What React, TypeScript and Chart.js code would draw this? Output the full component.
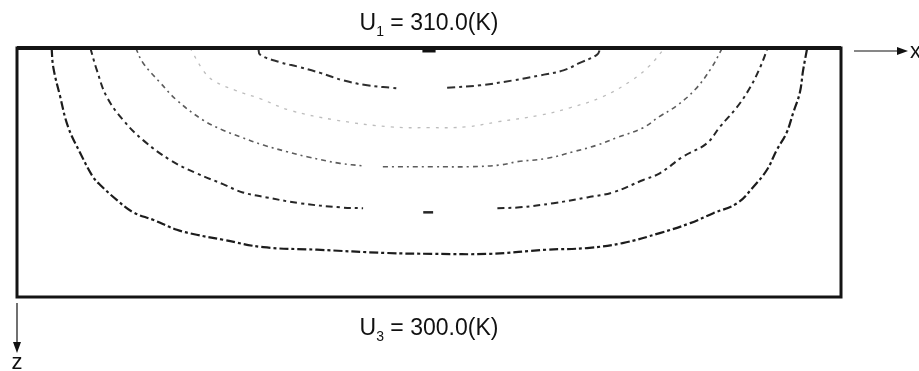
import React, { useEffect, useRef } from "react";
import { Chart, registerables } from "chart.js";

Chart.register(...registerables);

// Domain (x across, z down)
const X_RANGE = [0, 100];
const Z_RANGE = [0, 30];

// Contour 1 (outermost)
const c1X = [4.2, 4.4, 5.2, 6.2, 7.7, 9.2, 10.1, 12.1, 14.1, 16.5, 19.4, 21.8, 25.0, 29.9, 36.4, 44.9, 50.5, 57.4, 64.3, 69.2, 73.5, 78.0, 81.7, 84.5, 87.4, 89.3, 91.0, 92.2, 93.4, 94.2, 95.0, 95.4, 95.9];
const c1Z = [0, 2.3, 5.7, 9.5, 12.7, 15.5, 16.5, 18.3, 19.8, 20.7, 21.9, 22.5, 23.1, 24.0, 24.3, 24.7, 24.8, 24.8, 24.3, 24.1, 23.5, 22.3, 21.1, 19.9, 18.7, 16.8, 14.7, 12.3, 10.2, 7.8, 5.4, 2.7, 0];

// Contour 2 (three pieces)
const c2aX = [8.9, 9.7, 10.9, 12.9, 15.3, 18.6, 21.8, 25.0, 27.4, 30.3, 34.3, 39.2, 42.0];
const c2aZ = [0, 2.7, 5.9, 8.7, 11.1, 13.5, 15.1, 16.4, 17.4, 18.0, 18.7, 19.2, 19.3];
const c2bX = [49.3, 50.5];
const c2bZ = [19.8, 19.8];
const c2cX = [58.3, 61.0, 65.1, 69.2, 72.3, 76.0, 78.0, 80.8, 83.7, 85.3, 87.4, 89.0, 90.2, 91.1];
const c2cZ = [19.3, 19.2, 18.7, 18.0, 17.4, 15.9, 15.1, 13.1, 11.5, 9.5, 7.1, 4.7, 2.3, 0];

// Contour 3
const c3aX = [14.4, 15.3, 17.4, 19.4, 22.6, 25.0, 27.1, 29.9, 32.8, 35.2, 39.2, 42.0];
const c3aZ = [0, 1.8, 4.2, 6.3, 8.7, 9.9, 10.7, 11.7, 12.5, 13.1, 13.9, 14.2];
const c3bX = [44.4, 50.5, 55.0, 58.6, 60.7, 64.3, 67.5, 70.4, 72.8, 76.0, 77.9, 80.0, 82.3, 84.2, 85.6];
const c3bZ = [14.3, 14.3, 14.3, 14.1, 13.7, 13.3, 12.5, 11.7, 10.8, 9.6, 8.3, 7.0, 5.0, 2.5, 0];

// Contour 4 (faint)
const c4X = [21.0, 22.6, 23.8, 26.5, 29.5, 33.1, 38.8, 45.3, 50.0, 54.6, 58.3, 63.5, 67.1, 71.0, 74.6, 76.8, 78.6];
const c4Z = [0, 2.7, 3.9, 5.1, 6.1, 7.5, 8.7, 9.5, 9.6, 9.5, 8.9, 8.1, 7.2, 5.9, 3.9, 2.1, 0];

// Contour 5 (innermost)
const c5aX = [29.3, 29.5, 31.9, 34.3, 36.8, 39.6, 42.5, 45.6, 46.5];
const c5aZ = [0, 0.8, 1.7, 2.3, 3.0, 3.9, 4.5, 4.8, 4.9];
const c5bX = [52.2, 56.2, 60.2, 63.5, 66.3, 68.3, 70.4, 70.8];
const c5bZ = [4.8, 4.5, 3.9, 3.3, 2.7, 1.8, 0.8, 0];

// Mark on top boundary
const markX = [49.2, 50.8];
const markZ = [0.3, 0.3];

// Labels
const topLabel = ["U", "1", " = 310.0(K)"];
const bottomLabel = ["U", "3", " = 300.0(K)"];
const xAxisName = "x";
const zAxisName = "z";

const pts = (xs: number[], zs: number[]) => xs.map((x, i) => ({ x, y: zs[i] }));

const FONT = '"Liberation Sans", Arial, sans-serif';

function drawSubLabel(ctx: CanvasRenderingContext2D, parts: string[], cx: number, baseline: number) {
  const big = `23px ${FONT}`;
  const small = `14px ${FONT}`;
  ctx.font = big;
  const w1 = ctx.measureText(parts[0]).width;
  const w3 = ctx.measureText(parts[2]).width;
  ctx.font = small;
  const w2 = ctx.measureText(parts[1]).width;
  let x = cx - (w1 + w2 + w3) / 2;
  ctx.textAlign = "left";
  ctx.textBaseline = "alphabetic";
  ctx.font = big;
  ctx.fillText(parts[0], x, baseline);
  x += w1;
  ctx.font = small;
  ctx.fillText(parts[1], x, baseline + 6);
  x += w2;
  ctx.font = big;
  ctx.fillText(parts[2], x, baseline);
}

const decorPlugin = {
  id: "decor",
  afterDatasetsDraw(chart: any) {
    const { ctx, chartArea: a } = chart;
    ctx.save();
    // frame
    ctx.strokeStyle = "#141414";
    ctx.lineWidth = 3;
    ctx.strokeRect(a.left, a.top, a.right - a.left, a.bottom - a.top);
    ctx.lineWidth = 4;
    ctx.beginPath();
    ctx.moveTo(a.left, a.top);
    ctx.lineTo(a.right, a.top);
    ctx.stroke();

    ctx.fillStyle = "#111";
    const cx = (a.left + a.right) / 2;
    drawSubLabel(ctx, topLabel, cx, a.top - 18);
    drawSubLabel(ctx, bottomLabel, cx, a.bottom + 38);

    // x arrow
    ctx.strokeStyle = "#111";
    ctx.lineWidth = 1.2;
    const ay = a.top + 3;
    ctx.beginPath();
    ctx.moveTo(a.right + 13, ay);
    ctx.lineTo(a.right + 58, ay);
    ctx.stroke();
    ctx.beginPath();
    ctx.moveTo(a.right + 67, ay);
    ctx.lineTo(a.right + 56, ay - 4);
    ctx.lineTo(a.right + 56, ay + 4);
    ctx.closePath();
    ctx.fill();
    ctx.font = `22px ${FONT}`;
    ctx.textAlign = "left";
    ctx.fillText(xAxisName, a.right + 69, ay + 7);

    // z arrow
    const ax = a.left;
    ctx.beginPath();
    ctx.moveTo(ax, a.bottom + 6);
    ctx.lineTo(ax, a.bottom + 47);
    ctx.stroke();
    ctx.beginPath();
    ctx.moveTo(ax, a.bottom + 56);
    ctx.lineTo(ax - 4, a.bottom + 45);
    ctx.lineTo(ax + 4, a.bottom + 45);
    ctx.closePath();
    ctx.fill();
    ctx.textAlign = "center";
    ctx.fillText(zAxisName, ax, a.bottom + 72);
    ctx.restore();
  },
};

export default function App() {
  const ref = useRef<HTMLCanvasElement | null>(null);
  useEffect(() => {
    if (!ref.current) return;
    const line = (xs: number[], zs: number[], color: string, width: number, dash: number[]) => ({
      data: pts(xs, zs),
      showLine: true,
      borderColor: color,
      backgroundColor: color,
      borderWidth: width,
      borderDash: dash,
      pointRadius: 0,
      tension: 0.4,
      fill: false,
    });
    const chart = new Chart(ref.current, {
      type: "scatter",
      data: {
        datasets: [
          line(c1X, c1Z, "#1c1c1c", 2.2, [9, 3, 3, 3]),
          line(c2aX, c2aZ, "#262626", 2, [7, 4, 3, 4]),
          line(c2bX, c2bZ, "#262626", 2.5, []),
          line(c2cX, c2cZ, "#262626", 2, [7, 4, 3, 4]),
          line(c3aX, c3aZ, "#5c5c5c", 1.6, [5, 4, 2, 4]),
          line(c3bX, c3bZ, "#5c5c5c", 1.6, [5, 4, 2, 4]),
          line(c4X, c4Z, "#bdbdbd", 1.3, [3, 6]),
          line(c5aX, c5aZ, "#2e2e2e", 2, [8, 4, 3, 4]),
          line(c5bX, c5bZ, "#2e2e2e", 2, [8, 4, 3, 4]),
          line(markX, markZ, "#111", 4, []),
        ] as any,
      },
      options: {
        responsive: false,
        animation: false,
        devicePixelRatio: 1,
        layout: { padding: { left: 17, top: 48, right: 78, bottom: 74 } },
        plugins: { legend: { display: false }, tooltip: { enabled: false }, title: { display: false } },
        scales: {
          x: { type: "linear", min: X_RANGE[0], max: X_RANGE[1], display: false },
          y: { type: "linear", min: Z_RANGE[0], max: Z_RANGE[1], reverse: true, display: false },
        },
      } as any,
      plugins: [decorPlugin],
    });
    return () => chart.destroy();
  }, []);
  return (
    <div style={{ position: "fixed", left: 0, top: 0, width: 919, height: 371, background: "#fff" }}>
      <canvas ref={ref} width={919} height={371} style={{ display: "block", width: 919, height: 371 }} />
    </div>
  );
}
